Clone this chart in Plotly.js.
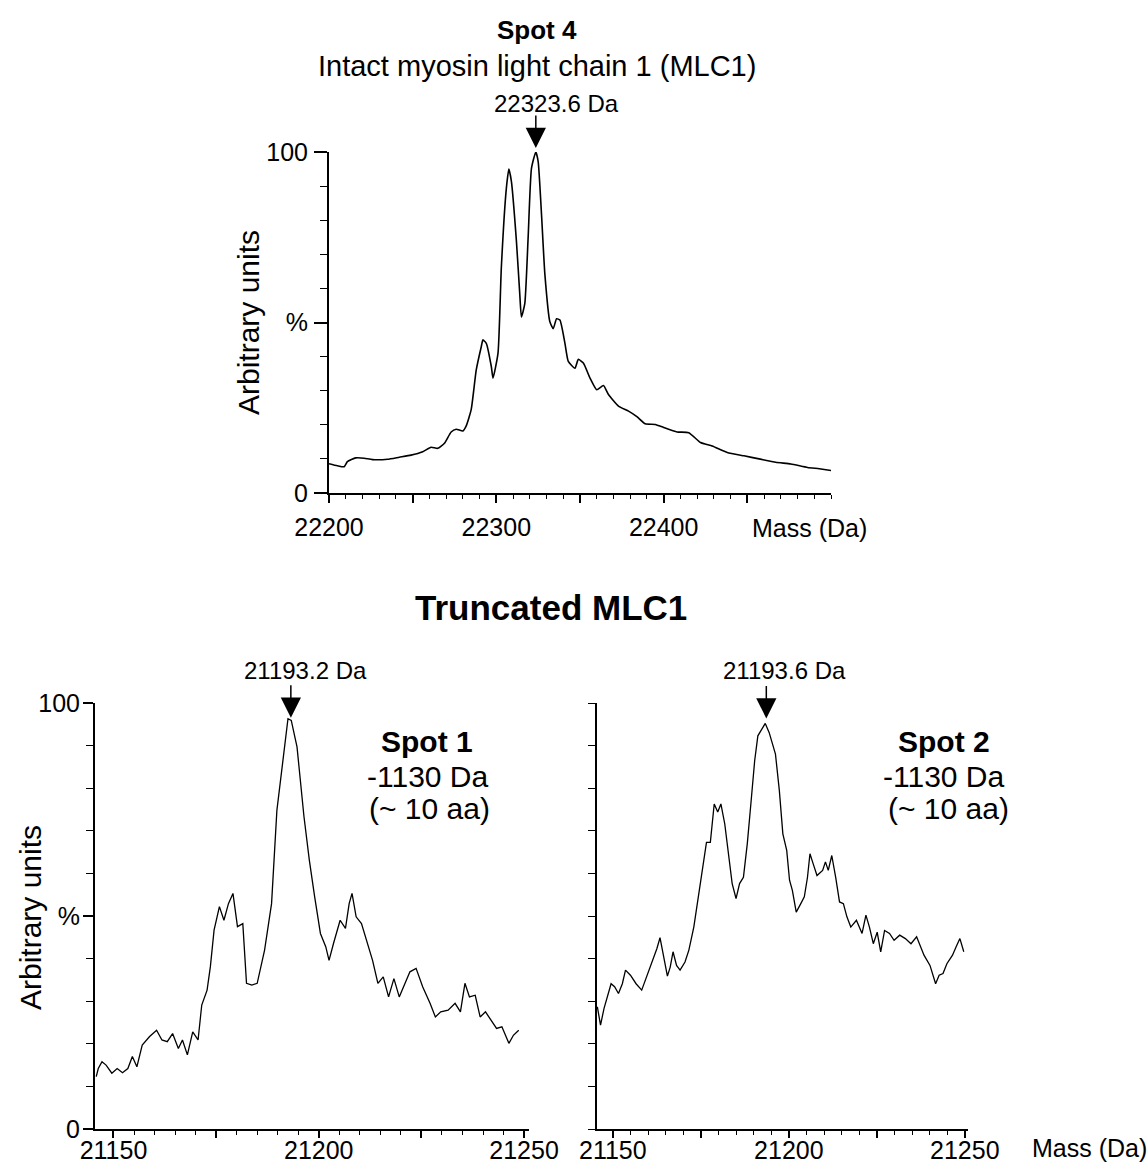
<!DOCTYPE html>
<html>
<head>
<meta charset="utf-8">
<script src="https://cdn.plot.ly/plotly-3.0.1.min.js"></script>
<style>
  html, body { margin: 0; padding: 0; background: #ffffff; }
  #chart { width: 1148px; height: 1166px; }
</style>
</head>
<body>
<div id="chart"></div>
<script>
// ---------- DATA ----------
// Spot 4 – intact myosin light chain 1 (MLC1)
const spot4Mass = [22200,22205,22209,22211,22216,22221,22226,22235,22242,22249,22256,22261,22265,22269,22273,22276,22280,22282,22285,22288,22291,22292,22294,22297,22298,22301,22303,22306,22307.5,22309,22312,22314,22315,22317,22319,22321,22323.6,22325,22327,22329,22332,22334,22336,22338,22341,22343,22347,22349,22352,22356,22360,22364,22367,22373,22379,22384,22389,22395,22400,22408,22415,22422,22429,22438,22448,22457,22467,22476,22486,22493,22500];
const spot4Intensity = [8.6,8.0,7.7,9.2,10.3,10.2,9.8,9.9,10.5,11.1,12.1,13.4,13.1,14.6,17.9,18.7,18.2,19.7,24.5,36.1,42.9,44.9,43.9,37.1,33.7,41.0,66.2,89.4,95.0,91.4,73.9,58.4,51.6,55.5,74.9,95.2,100,97.2,81.7,64.2,50.2,48.2,51.1,50.7,43.9,38.6,36.6,39.2,38.1,33.7,30.3,31.5,28.9,25.5,24.0,22.4,20.3,20.1,19.2,17.9,17.7,14.8,13.8,11.9,10.9,10.0,9.0,8.5,7.5,7.1,6.6];

// Spot 1 – truncated MLC1
const spot1Mass = [21145.8,21146.3,21147.2,21148.2,21149.6,21150.9,21152.2,21153.5,21154.6,21155.7,21157.0,21158.8,21160.5,21161.8,21163.1,21164.4,21165.8,21166.8,21168.0,21169.3,21170.6,21171.5,21172.8,21173.6,21174.5,21175.8,21176.9,21178.0,21179.1,21180.2,21181.5,21182.4,21183.7,21185.0,21186.8,21188.5,21189.8,21191.2,21192.5,21193.3,21194.7,21196.4,21197.7,21199.0,21200.4,21201.7,21202.5,21203.6,21205.2,21206.5,21207.4,21208.1,21209.1,21210.4,21211.8,21213.1,21214.4,21215.7,21217.0,21218.3,21219.6,21221.0,21222.2,21223.7,21225.3,21227.1,21228.4,21229.7,21231.5,21233.2,21234.5,21235.6,21236.7,21238.1,21239.3,21240.6,21241.9,21243.3,21244.6,21246.3,21247.4,21248.7];
const spot1Intensity = [12.3,14.2,15.8,15.0,13.1,14.2,13.2,14.2,17.0,14.6,19.7,21.7,23.2,20.9,20.5,22.4,18.9,20.9,17.4,22.8,20.9,29.1,32.6,38.1,46.7,52.2,49.0,52.9,55.3,47.5,48.2,34.2,33.8,34.2,42.0,52.9,74.8,86.6,96.3,95.9,89.7,73.3,63.1,54.5,45.9,42.8,39.6,43.6,49.0,47.1,52.9,55.3,49.8,48.2,43.6,39.6,34.2,35.7,31.0,35.3,31.0,34.2,36.9,37.7,33.4,29.5,26.3,27.5,27.9,29.5,27.5,34.2,31.0,31.4,26.3,27.5,25.6,23.6,24.0,20.1,22.0,23.2];

// Spot 2 – truncated MLC1
const spot2Mass = [21145.6,21145.9,21146.5,21147.5,21148.6,21149.5,21150.5,21151.6,21152.7,21153.6,21155.0,21156.6,21158.2,21159.8,21161.4,21162.5,21163.4,21164.4,21165.5,21166.3,21167.1,21168.1,21169.1,21170.5,21171.6,21173.0,21174.3,21175.3,21176.6,21177.7,21178.8,21179.8,21180.7,21181.8,21183.0,21183.9,21185.0,21186.0,21187.1,21188.2,21189.3,21190.3,21191.2,21192.5,21193.3,21194.4,21195.5,21196.2,21197.3,21198.3,21199.4,21200.2,21201.0,21202.1,21203.4,21204.4,21205.3,21206.0,21206.9,21208.0,21209.6,21210.4,21211.2,21212.2,21213.3,21214.4,21215.5,21216.5,21217.6,21219.2,21220.8,21221.9,21222.9,21224.0,21225.1,21226.1,21227.2,21228.6,21229.9,21231.5,21233.1,21234.7,21236.3,21237.4,21238.4,21240.1,21241.7,21242.7,21243.8,21244.9,21246.5,21247.5,21248.6,21249.7];
const spot2Intensity = [28.7,27.1,24.4,28.3,31.8,34.1,33.4,31.8,34.1,37.3,36.1,34.1,32.6,36.1,39.6,42.3,44.9,40.4,35.9,38.0,41.6,38.4,37.3,39.2,42.0,47.4,54.5,60.7,67.3,67.3,76.3,74.4,76.3,71.6,63.8,57.6,54.1,57.6,59.1,67.0,77.1,86.5,92.3,94.3,95.2,93.1,89.6,88.0,79.5,69.3,65.4,58.4,56.0,50.9,52.9,54.5,59.1,64.6,62.3,59.5,60.7,62.7,60.7,64.2,59.1,53.3,52.9,49.8,47.4,49.0,45.9,50.2,47.4,43.5,46.2,41.6,46.6,45.9,44.3,45.5,44.7,43.5,45.1,42.7,40.8,38.4,34.1,36.1,36.5,38.8,40.8,42.7,44.7,41.6];

// Tick labels
const yTickVals = [0, 50, 100];
const yTickText = ['0', '%', '100'];
const topXTickVals = [22200, 22250, 22300, 22350, 22400, 22450];
const topXTickText = ['22200', '', '22300', '', '22400', ''];
const botXTickVals = [21150, 21175, 21200, 21225, 21250];
const botXTickText = ['21150', '', '21200', '', '21250'];

// Peak labels
const spot4Peak = 22323.6, spot4PeakLabel = '22323.6 Da';
const spot1Peak = 21193.2, spot1PeakLabel = '21193.2 Da';
const spot2Peak = 21193.6, spot2PeakLabel = '21193.6 Da';

// ---------- LAYOUT ----------
const W = 1148, H = 1166;
const px = v => v / W;
const py = v => 1 - v / H;
const FONT = '"Liberation Sans", Arial, Helvetica, sans-serif';

function xAxisBase(domain, range, vals, text, standoff, ticklen) {
  return {
    domain: domain, range: range, showgrid: false, zeroline: false,
    showline: true, linecolor: '#000', linewidth: 2,
    ticks: 'outside', ticklen: ticklen, tickwidth: 1.5, tickcolor: '#000',
    tickvals: vals, ticktext: text, ticklabelstandoff: standoff,
    tickfont: {family: FONT, size: 25, color: '#000'},
    minor: {ticks: 'outside', ticklen: 4, tickwidth: 1, tickcolor: '#000', showgrid: false},
    fixedrange: true
  };
}
function yAxisBase(domain, showLabels, anchor, ticklen, standoff) {
  return {
    domain: domain, range: [0, 100], anchor: anchor, showgrid: false, zeroline: false,
    showline: true, linecolor: '#000', linewidth: 2,
    ticks: 'outside', ticklen: ticklen, tickwidth: 1.5, tickcolor: '#000',
    tickvals: yTickVals, ticktext: showLabels ? yTickText : ['', '', ''],
    showticklabels: showLabels, ticklabelstandoff: standoff,
    tickfont: {family: FONT, size: 25, color: '#000'},
    minor: {ticks: 'outside', ticklen: 7, tickwidth: 1, tickcolor: '#000', dtick: 10, tick0: 0, showgrid: false},
    fixedrange: true
  };
}

const traces = [
  {x: spot4Mass, y: spot4Intensity, xaxis: 'x', yaxis: 'y', type: 'scatter', mode: 'lines',
   line: {color: '#000', width: 1.6, shape: 'spline', smoothing: 0.5}, name: 'Spot 4', hoverinfo: 'x+y'},
  {x: spot1Mass, y: spot1Intensity, xaxis: 'x2', yaxis: 'y2', type: 'scatter', mode: 'lines',
   line: {color: '#000', width: 1.3}, name: 'Spot 1', hoverinfo: 'x+y'},
  {x: spot2Mass, y: spot2Intensity, xaxis: 'x3', yaxis: 'y3', type: 'scatter', mode: 'lines',
   line: {color: '#000', width: 1.3}, name: 'Spot 2', hoverinfo: 'x+y'}
];

const xa1 = xAxisBase([px(329), px(831)], [22200, 22500], topXTickVals, topXTickText, 3, 8);
xa1.anchor = 'y'; xa1.minor.dtick = 10; xa1.minor.tick0 = 22200;
const xa2 = xAxisBase([px(95), px(529)], [21145.5, 21251.2], botXTickVals, botXTickText, -9, 7);
xa2.anchor = 'y2'; xa2.minor.dtick = 5; xa2.minor.tick0 = 21150;
const xa3 = xAxisBase([px(597), px(968)], [21145.5, 21250.9], botXTickVals, botXTickText, -9, 7);
xa3.anchor = 'y3'; xa3.minor.dtick = 5; xa3.minor.tick0 = 21150;

function txt(text, x, y, size, extra) {
  return Object.assign({
    text: text, xref: 'paper', yref: 'paper', x: px(x), y: py(y),
    xanchor: 'center', yanchor: 'middle', showarrow: false,
    font: {family: FONT, size: size, color: '#000'}
  }, extra || {});
}
function arrow(xref, yref, x, y, ay, standoff) {
  return {
    text: '', xref: xref, yref: yref, x: x, y: y, ax: 0, ay: ay,
    showarrow: true, arrowhead: 2, arrowsize: 2.7, arrowwidth: 1.5,
    arrowcolor: '#000', standoff: standoff
  };
}

const annotations = [
  txt('<b>Spot 4</b>', 537, 30, 26),
  txt('Intact myosin light chain 1 (MLC1)', 537, 66, 29),
  txt(spot4PeakLabel, 556, 103, 24),
  arrow('x', 'y', spot4Peak, 100, -38, 4),
  txt('Arbitrary units', 248, 323, 30, {textangle: -90}),
  txt('Mass (Da)', 809, 528, 25),

  txt('<b>Truncated MLC1</b>', 551, 607, 35),

  txt(spot1PeakLabel, 306, 670, 24),
  arrow('x2', 'y2', spot1Peak, 96.3, -35, 1),
  txt('<b>Spot 1</b>', 427, 741, 30),
  txt('-1130 Da', 428, 776, 30),
  txt('(~ 10 aa)', 429, 808, 30),
  txt('Arbitrary units', 30, 918, 30, {textangle: -90}),

  txt(spot2PeakLabel, 784, 670, 24),
  arrow('x3', 'y3', spot2Peak, 95.2, -39, 5),
  txt('<b>Spot 2</b>', 944, 741, 30),
  txt('-1130 Da', 944, 776, 30),
  txt('(~ 10 aa)', 948, 808, 30),
  txt('Mass (Da)', 1089, 1148, 25)
];

const layout = {
  width: W, height: H,
  margin: {l: 0, r: 0, t: 0, b: 0, pad: 0},
  paper_bgcolor: '#ffffff', plot_bgcolor: '#ffffff',
  showlegend: false,
  font: {family: FONT, color: '#000'},
  xaxis: xa1, yaxis: yAxisBase([py(493), py(152)], true, 'x', 13, 1),
  xaxis2: xa2, yaxis2: yAxisBase([py(1129), py(703)], true, 'x2', 10, -2),
  xaxis3: xa3, yaxis3: yAxisBase([py(1129), py(703)], false, 'x3', 10, 0),
  annotations: annotations
};

Plotly.newPlot('chart', traces, layout, {displayModeBar: false});
</script>
</body>
</html>
